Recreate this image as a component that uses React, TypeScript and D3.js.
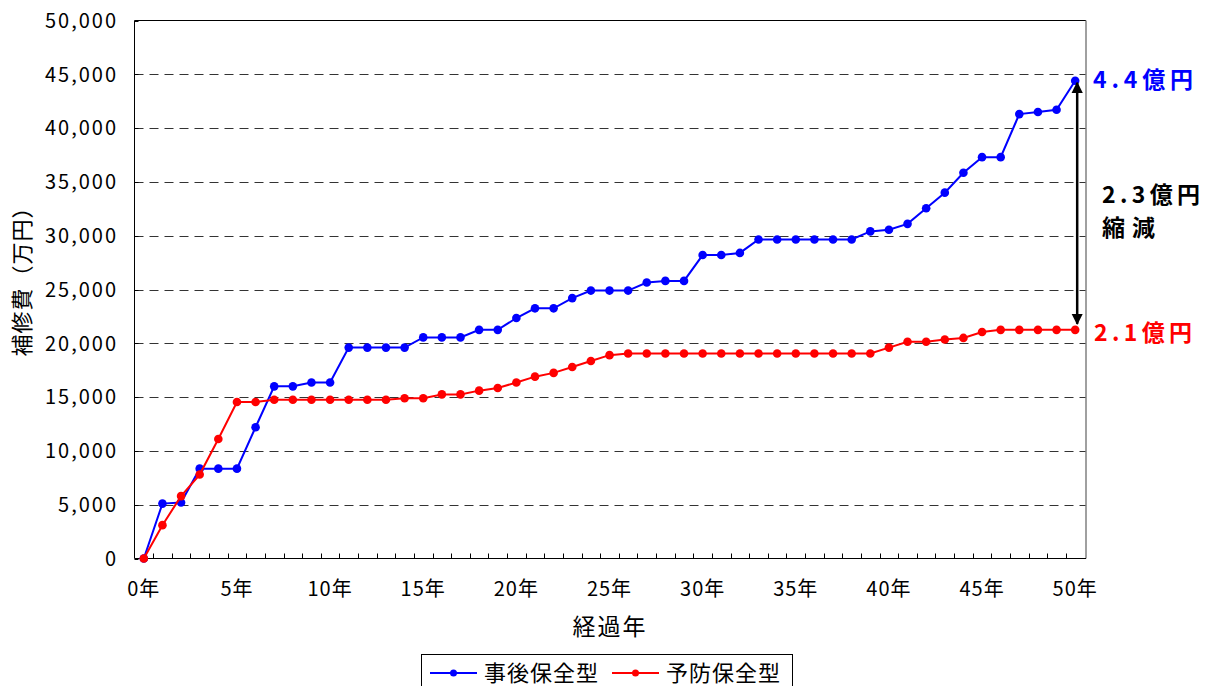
import * as d3 from 'd3';

// 経過年 0..50
const years = d3.range(0, 51);
const yearLabels = years.map((y) => `${y}年`);

// 事後保全型 (万円)
const reactive = [
  0, 5100, 5200, 8350, 8350, 8350, 12200, 16000, 16000, 16350,
  16350, 19600, 19600, 19600, 19600, 20550, 20550, 20550, 21250, 21250,
  22350, 23250, 23250, 24200, 24900, 24900, 24900, 25650, 25800, 25800,
  28200, 28200, 28400, 29650, 29650, 29650, 29650, 29650, 29650, 30400,
  30550, 31100, 32550, 34000, 35850, 37300, 37300, 41300, 41500, 41700,
  44400,
];

// 予防保全型 (万円)
const preventive = [
  0, 3100, 5800, 7800, 11100, 14550, 14550, 14750, 14750, 14750,
  14750, 14750, 14750, 14750, 14900, 14900, 15250, 15250, 15600, 15850,
  16350, 16900, 17250, 17800, 18350, 18900, 19050, 19050, 19050, 19050,
  19050, 19050, 19050, 19050, 19050, 19050, 19050, 19050, 19050, 19050,
  19600, 20150, 20150, 20350, 20500, 21050, 21250, 21250, 21250, 21250,
  21250,
];

const yTicks = [0, 5000, 10000, 15000, 20000, 25000, 30000, 35000, 40000, 45000, 50000];

const seriesNames = ['事後保全型', '予防保全型'];
const seriesColors = ['#0000ff', '#ff0000'];

const FONT = '"Noto Sans CJK JP", "Noto Sans", sans-serif';

export default function App() {
  const W = 1217;
  const H = 686;
  const left = 134.5;
  const right = 1084.5;
  const frameRight = 1086;
  const top = 20.5;
  const bottom = 558.5;

  const x = d3.scaleBand<number>().domain(years).range([left, right]).padding(0);
  const cx = (i: number) => (x(i) ?? 0) + x.bandwidth() / 2;
  const y = d3.scaleLinear().domain([0, 50000]).range([bottom, top]);

  const line = d3
    .line<number>()
    .x((_, i) => cx(i))
    .y((d) => y(d));

  const fmt = d3.format(',');
  const series = [reactive, preventive];

  const arrowX = cx(50) + 2;
  const arrowTop = y(reactive[50]) + 2;
  const arrowBottom = y(preventive[50]) - 6;

  return (
    <svg
      width={W}
      height={H}
      style={{ position: 'absolute', left: 0, top: 0, background: '#fff' }}
      fontFamily={FONT}
    >
      <defs>
        <marker id="ah" viewBox="0 0 10 10" refX="9" refY="5" markerWidth="4.5" markerHeight="5" orient="auto-start-reverse" markerUnits="strokeWidth">
          <path d="M0,0 L10,5 L0,10 z" fill="#000" />
        </marker>
      </defs>

      {/* gridlines */}
      {yTicks.slice(1, -1).map((t) => (
        <line key={t} x1={left} x2={frameRight} y1={Math.round(y(t)) + 0.5} y2={Math.round(y(t)) + 0.5}
          stroke="#333" strokeWidth={1} strokeDasharray="9,6" />
      ))}

      {/* frame */}
      <line x1={left} x2={frameRight} y1={top} y2={top} stroke="#000" strokeWidth={1} />
      <line x1={frameRight} x2={frameRight} y1={top} y2={bottom} stroke="#808080" strokeWidth={1.5} />
      <line x1={left} x2={left} y1={top} y2={bottom} stroke="#000" strokeWidth={1} />
      <line x1={left} x2={frameRight} y1={bottom} y2={bottom} stroke="#000" strokeWidth={1} />

      {/* y ticks + labels */}
      {yTicks.map((t) => (
        <g key={t}>
          <line x1={left} x2={left + 4} y1={Math.round(y(t)) + 0.5} y2={Math.round(y(t)) + 0.5} stroke="#000" />
          <text x={118} y={y(t)} dy="0.36em" textAnchor="end" fontSize={20} letterSpacing={2} fill="#000">
            {fmt(t)}
          </text>
        </g>
      ))}

      {/* x ticks */}
      {years.slice(1).map((i) => (
        <line key={i} x1={Math.round(x(i) ?? 0) + 0.5} x2={Math.round(x(i) ?? 0) + 0.5} y1={bottom} y2={bottom - 5} stroke="#000" />
      ))}
      {years.filter((i) => i % 5 === 0).map((i) => (
        <text key={i} x={cx(i)} y={589} dy="0.36em" textAnchor="middle" fontSize={20} letterSpacing={1} fill="#000">
          {yearLabels[i]}
        </text>
      ))}

      {/* axis titles */}
      <text x={610} y={627} dy="0.36em" textAnchor="middle" fontSize={23} letterSpacing={2} fill="#000">経過年</text>
      <text transform="translate(22,276) rotate(-90)" dy="0.36em" textAnchor="middle" fontSize={22} letterSpacing={1} fill="#000">補修費（万円）</text>

      {/* series */}
      {series.map((s, k) => (
        <g key={k}>
          <path d={line(s) ?? ''} fill="none" stroke={seriesColors[k]} strokeWidth={2} />
          {s.map((v, i) => (
            <circle key={i} cx={cx(i)} cy={y(v)} r={4.3} fill={seriesColors[k]} />
          ))}
        </g>
      ))}

      {/* difference arrow */}
      <line x1={arrowX} x2={arrowX} y1={arrowTop} y2={arrowBottom} stroke="#000" strokeWidth={2.5}
        markerStart="url(#ah)" markerEnd="url(#ah)" />

      {/* annotations */}
      <text x={1093} y={80} dy="0.36em" fontSize={23} fontWeight="bold" fill="#0000ff" textLength={100} lengthAdjust="spacing">4.4億円</text>
      <text x={1102} y={195} dy="0.36em" fontSize={23} fontWeight="bold" fill="#000" textLength={98} lengthAdjust="spacing">2.3億円</text>
      <text x={1102} y={228} dy="0.36em" fontSize={23} fontWeight="bold" fill="#000" letterSpacing={7}>縮減</text>
      <text x={1094} y={333} dy="0.36em" fontSize={23} fontWeight="bold" fill="#ff0000" textLength={98} lengthAdjust="spacing">2.1億円</text>

      {/* legend */}
      <rect x={421.5} y={654.5} width={371} height={60} fill="#fff" stroke="#000" strokeWidth={1} />
      {seriesNames.map((n, k) => {
        const lx = k === 0 ? 430 : 612;
        return (
          <g key={n}>
            <line x1={lx} x2={lx + 47} y1={673} y2={673} stroke={seriesColors[k]} strokeWidth={2} />
            <circle cx={lx + 23.5} cy={673} r={3.5} fill={seriesColors[k]} />
            <text x={lx + 54} y={673} dy="0.36em" fontSize={22} letterSpacing={1} fill="#000">{n}</text>
          </g>
        );
      })}
    </svg>
  );
}
